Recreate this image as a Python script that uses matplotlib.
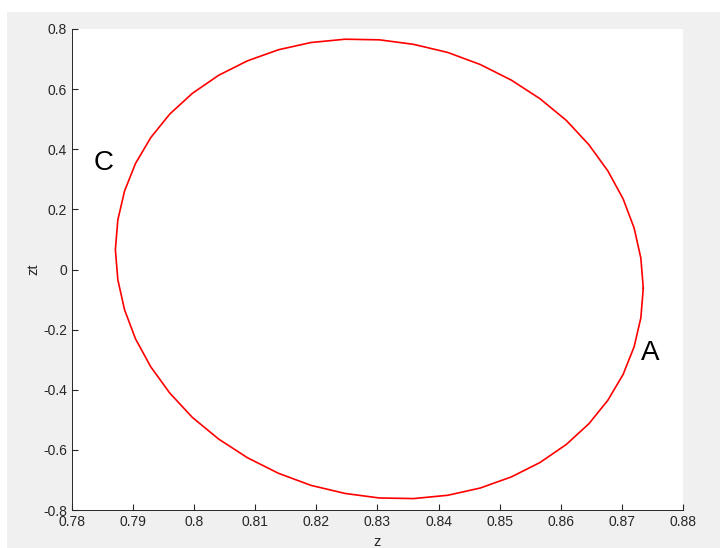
import numpy as np
import matplotlib.pyplot as plt
from matplotlib.patches import Rectangle

z = [0.8735, 0.8731, 0.8720, 0.8702, 0.8677, 0.8646, 0.8609, 0.8566,
     0.8519, 0.8468, 0.8415, 0.8359, 0.8303, 0.8247, 0.8191, 0.8138,
     0.8087, 0.8040, 0.7997, 0.7960, 0.7929, 0.7904, 0.7886, 0.7875,
     0.7871, 0.7875, 0.7886, 0.7904, 0.7929, 0.7960, 0.7997, 0.8040,
     0.8087, 0.8138, 0.8191, 0.8247, 0.8303, 0.8359, 0.8415, 0.8468,
     0.8519, 0.8566, 0.8609, 0.8646, 0.8677, 0.8702, 0.8720, 0.8731,
     0.8735]
zt = [-0.062, 0.038, 0.138, 0.235, 0.328, 0.415, 0.496, 0.568,
      0.630, 0.682, 0.722, 0.749, 0.764, 0.766, 0.755, 0.731,
      0.694, 0.646, 0.586, 0.517, 0.439, 0.353, 0.261, 0.165,
      0.066, -0.034, -0.134, -0.231, -0.324, -0.411, -0.492, -0.564,
      -0.626, -0.678, -0.718, -0.745, -0.760, -0.762, -0.751, -0.727,
      -0.690, -0.642, -0.582, -0.513, -0.435, -0.349, -0.257, -0.161,
      -0.062]

xticks = [0.78, 0.79, 0.8, 0.81, 0.82, 0.83, 0.84, 0.85, 0.86, 0.87, 0.88]
yticks = [-0.8, -0.6, -0.4, -0.2, 0, 0.2, 0.4, 0.6, 0.8]

etiquetas = ['C', 'A']
pos_etiquetas = [(0.7851, 0.354), (0.8746, -0.278)]

plt.rcParams['font.family'] = ['Liberation Sans', 'DejaVu Sans']

fig = plt.figure(figsize=(7.2, 5.48), dpi=100, facecolor='#f0f0f0')
# franjas blancas del borde
fig.patches.append(Rectangle((0, 1 - 12/548), 1, 12/548, transform=fig.transFigure,
                             facecolor='white', edgecolor='none', zorder=-1))
fig.patches.append(Rectangle((0, 0), 7/720, 1, transform=fig.transFigure,
                             facecolor='white', edgecolor='none', zorder=-1))

ax = fig.add_axes([72/720, 1 - 510/548, 611/720, 481/548])
ax.set_facecolor('white')
ax.plot(z, zt, color='red', linewidth=1.2,
        solid_joinstyle='round', solid_capstyle='round')

for texto, (px, py) in zip(etiquetas, pos_etiquetas):
    ax.text(px, py, texto, fontsize=20, ha='center', va='center', color='black')

ax.set_xlim(0.78, 0.88)
ax.set_ylim(-0.8, 0.8)
ax.set_xticks(xticks)
ax.set_xticklabels([f'{v:g}' for v in xticks])
ax.set_yticks(yticks)
ax.set_yticklabels([f'{v:g}' for v in yticks])
ax.tick_params(direction='in', length=4, labelsize=10, colors='#262626')

for lado in ['top', 'right']:
    ax.spines[lado].set_visible(False)
for lado in ['left', 'bottom']:
    ax.spines[lado].set_color('#262626')
    ax.spines[lado].set_linewidth(0.7)

ax.set_xlabel('z', fontsize=10.5, color='#262626')
ax.xaxis.set_label_coords(0.5, -0.052)
ax.set_ylabel('zt', fontsize=10.5, color='#262626')
ax.yaxis.set_label_coords(-0.052, 0.5)

fig.savefig('out.png', dpi=100, facecolor=fig.get_facecolor())
